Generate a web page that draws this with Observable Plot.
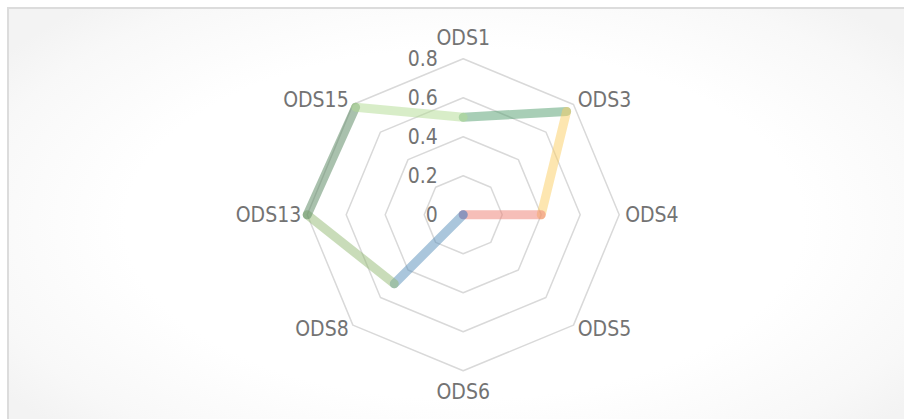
<!DOCTYPE html>
<html>
<head>
<meta charset="utf-8">
<script src="https://cdn.jsdelivr.net/npm/d3@7"></script>
<script src="https://cdn.jsdelivr.net/npm/@observablehq/plot@0.6"></script>
<style>
  html, body { margin: 0; padding: 0; background: #ffffff; overflow: hidden; }
  #wrap { position: relative; width: 904px; height: 419px; }
  #frame {
    position: absolute; left: 7px; top: 7px; width: 910px; height: 430px;
    border-left: 2px solid #dcdcdc; border-top: 2px solid #dcdcdc;
    background: radial-gradient(ellipse 62% 68% at 50% 50%, #ffffff 60%, #f8f8f8 88%, #f3f3f3 100%);
  }
  #chart { position: absolute; left: 0; top: 0; }
</style>
</head>
<body>
<div id="wrap"><div id="frame"></div><div id="chart"></div></div>
<script>
const categories = ["ODS1", "ODS3", "ODS4", "ODS5", "ODS6", "ODS8", "ODS13", "ODS15"];
const values = [0.5, 0.75, 0.4, 0, 0, 0.5, 0.8, 0.78];
const segmentColors = ["#519d6d", "#fbcd61", "#ed7d71", "#8e7cc3", "#558db9", "#93b973", "#53835b", "#b1db91"];
const ticks = [0, 0.2, 0.4, 0.6, 0.8];
const tickLabels = ["0", "0.2", "0.4", "0.6", "0.8"];

const W = 904, H = 419;
const cx = 462.7, cy = 214.3;
const pxPerUnit = 195;          // 0.8 -> 156 px
const px = 1 / pxPerUnit;       // one pixel in data units
const n = categories.length;
const maxV = d3.max(ticks);
const angle = i => i * 2 * Math.PI / n;
const pt = (i, r) => ({ x: r * Math.sin(angle(i)), y: r * Math.cos(angle(i)) });

// grid rings
const rings = [];
ticks.filter(t => t > 0).forEach(t => {
  categories.forEach((c, i) => rings.push({ ring: t, ...pt(i, t) }));
});

// series segments (one colour per segment)
const segs = categories.map((c, i) => {
  const j = (i + 1) % n;
  const a = pt(i, values[i]), b = pt(j, values[j]);
  return { x1: a.x, y1: a.y, x2: b.x, y2: b.y, color: segmentColors[i] };
});

// category labels
const labels = categories.map((c, i) => {
  const s = Math.sin(angle(i)), co = Math.cos(angle(i));
  const vertical = Math.abs(s) < 0.1;
  const r = maxV + (vertical ? 21 : 6) * px;
  return { label: c, x: r * s, y: r * co, anchor: s > 0.1 ? "start" : s < -0.1 ? "end" : "middle" };
});

const tickData = ticks.map((t, k) => ({ label: tickLabels[k], x: -25.5 * px, y: t }));

const chart = Plot.plot({
  width: W,
  height: H,
  margin: 0,
  style: { background: "transparent", overflow: "visible" },
  x: { domain: [-1, 1], range: [cx - pxPerUnit, cx + pxPerUnit], axis: null },
  y: { domain: [-1, 1], range: [cy + pxPerUnit, cy - pxPerUnit], axis: null },
  marks: [
    Plot.line(rings, { x: "x", y: "y", z: "ring", curve: "linear-closed", stroke: "#d9d9d9", strokeWidth: 1.5 }),
    Plot.link(segs, { x1: "x1", y1: "y1", x2: "x2", y2: "y2", stroke: d => d.color, strokeWidth: 9, strokeOpacity: 0.5, strokeLinecap: "round" }),
    ...["start", "middle", "end"].map(a =>
      Plot.text(labels.filter(d => d.anchor === a), { x: "x", y: "y", text: "label", textAnchor: a, fill: "#737373", fontSize: 21, fontFamily: "DejaVu Sans Condensed" })
    ),
    Plot.text(tickData, { x: "x", y: "y", text: "label", textAnchor: "end", fill: "#737373", fontSize: 21, fontFamily: "DejaVu Sans Condensed" })
  ]
});
document.getElementById("chart").appendChild(chart);
</script>
</body>
</html>
